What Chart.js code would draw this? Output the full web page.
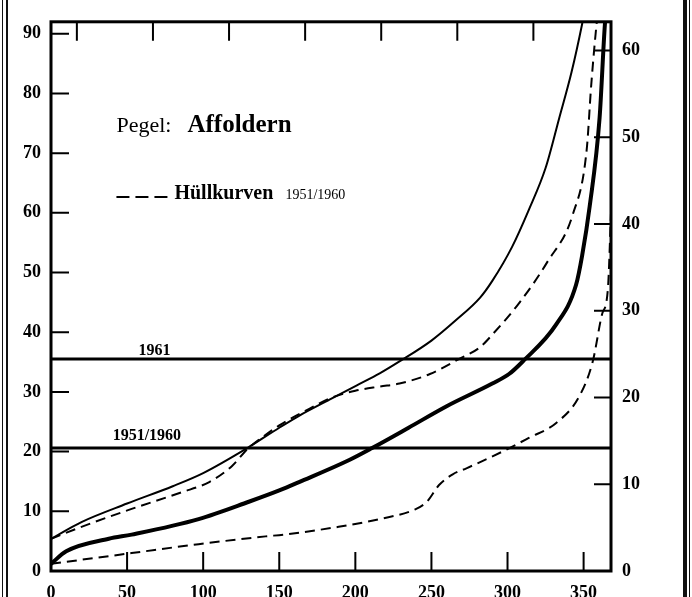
<!DOCTYPE html>
<html>
<head>
<meta charset="utf-8">
<script src="https://cdn.jsdelivr.net/npm/chart.js@4/dist/chart.umd.min.js"></script>
<style>
  html, body { margin: 0; padding: 0; background: #fff; }
  #wrap { position: relative; width: 692px; height: 597px; }
  .edge { position: absolute; top: 0; height: 597px; background: #111; }
</style>
</head>
<body>
<div id="wrap">
  <canvas id="myChart"></canvas>
  <div class="edge" style="left:2px;width:1px"></div>
  <div class="edge" style="left:6px;width:2px"></div>
  <div class="edge" style="left:683px;width:4px"></div>
  <div class="edge" style="left:689px;width:1px"></div>
</div>
<script>
// axis ranges
const dayMax = 368;
const leftMax = 92;
const rightMax = 63.3;
const topTickDays = [17, 67, 117, 167, 217, 267, 317];

// horizontal levels
const levelLabels = ['1961', '1951/1960'];
const levelValues = [35.5, 20.6];
const levelDays = [0, dayMax];

// thin solid curve (1961)
const curve1961Days = [0, 20, 50, 80, 100, 129, 150, 163, 183, 201, 216, 229, 250, 266, 282, 290, 303, 314, 325, 334, 342, 349, 353];
const curve1961Values = [5.4, 8.2, 11.3, 14.2, 16.4, 20.6, 24.0, 26.0, 28.7, 31.1, 33.1, 35.1, 38.6, 42.0, 45.8, 48.6, 54.3, 60.5, 67.5, 75.9, 83.5, 91.6, 97];

// thick solid curve (1951/1960)
const meanDays = [0, 10, 38, 53, 97, 130, 150, 163, 196, 211, 235, 260, 290, 301, 310, 332, 345, 349, 354, 360.5, 364, 366];
const meanValues = [1.2, 3.3, 5.4, 6.1, 8.7, 11.6, 13.5, 14.9, 18.6, 20.6, 24.0, 27.6, 31.4, 33.0, 35.1, 41.3, 47.9, 52.8, 61.1, 75.9, 91.6, 97];

// Hüllkurven 1951/1960 (dashed)
const hullUpperDays = [0, 20, 53, 86, 104, 119, 129, 140, 150, 170, 183, 200, 216, 229, 249, 268, 282, 290, 308, 326, 343, 352, 355, 358.5, 360];
const hullUpperValues = [5.4, 7.4, 10.4, 13.2, 14.9, 17.6, 20.4, 22.6, 24.4, 27.2, 28.9, 30.2, 30.9, 31.4, 33.0, 35.5, 37.5, 39.6, 45.0, 51.7, 59.8, 70.5, 81.4, 91.6, 95];
const hullLowerDays = [0, 53, 97, 141, 153, 189, 216, 240, 247, 255, 264, 273, 299, 314, 332, 347, 356, 362, 366, 368];
const hullLowerValues = [1.2, 3.0, 4.5, 5.8, 6.1, 7.4, 8.7, 10.4, 11.6, 14.4, 16.2, 17.2, 20.3, 22.3, 24.8, 29.2, 35.1, 42.9, 47.4, 60];

const toPoints = (days, values) => days.map((d, i) => ({ x: d, y: values[i] }));

const curve = (days, values, width, dash) => ({
  data: toPoints(days, values),
  borderColor: '#000',
  borderWidth: width,
  borderDash: dash || [],
  pointRadius: 0,
  cubicInterpolationMode: 'monotone',
  fill: false,
});

const datasets = [];
levelValues.forEach((v) => {
  datasets.push({ data: levelDays.map((d) => ({ x: d, y: v })), borderColor: '#000', borderWidth: 3, pointRadius: 0 });
});
datasets.push(curve(curve1961Days, curve1961Values, 2));
datasets.push(curve(hullUpperDays, hullUpperValues, 2, [10, 6]));
datasets.push(curve(meanDays, meanValues, 4));
datasets.push(curve(hullLowerDays, hullLowerValues, 2, [10, 6]));

// ticks pointing inward, frame, and text labels
const frameAndText = {
  id: 'frameAndText',
  afterDatasetsDraw(chart) {
    const { ctx, chartArea: a, scales } = chart;
    const { x, y, y2 } = scales;
    ctx.save();
    ctx.strokeStyle = '#000';
    ctx.lineWidth = 2;
    ctx.beginPath();
    y.ticks.forEach((t) => {
      if (t.value === 0) return;
      const py = y.getPixelForValue(t.value);
      ctx.moveTo(a.left, py); ctx.lineTo(a.left + 18, py);
    });
    y2.ticks.forEach((t) => {
      if (t.value === 0) return;
      const py = y2.getPixelForValue(t.value);
      ctx.moveTo(a.right, py); ctx.lineTo(a.right - 17, py);
    });
    x.ticks.forEach((t) => {
      if (t.value === 0) return;
      const px = x.getPixelForValue(t.value);
      ctx.moveTo(px, a.bottom); ctx.lineTo(px, a.bottom - 19);
    });
    topTickDays.forEach((d) => {
      const px = x.getPixelForValue(d);
      ctx.moveTo(px, a.top); ctx.lineTo(px, a.top + 19);
    });
    ctx.stroke();
    ctx.lineWidth = 3;
    ctx.strokeRect(a.left, a.top, a.right - a.left, a.bottom - a.top);

    // level labels
    ctx.fillStyle = '#000';
    ctx.textAlign = 'center';
    ctx.textBaseline = 'alphabetic';
    ctx.font = 'bold 16px "Liberation Serif"';
    ctx.fillText(levelLabels[0], x.getPixelForValue(68), y.getPixelForValue(levelValues[0]) - 4);
    ctx.fillText(levelLabels[1], x.getPixelForValue(63), y.getPixelForValue(levelValues[1]) - 8);

    // title
    ctx.textAlign = 'left';
    const tx = x.getPixelForValue(43);
    const ty = y.getPixelForValue(73.6);
    ctx.font = '22px "Liberation Serif"';
    ctx.fillText('Pegel:', tx, ty);
    ctx.font = 'bold 25px "Liberation Serif"';
    ctx.fillText('Affoldern', tx + 71, ty);

    // legend
    const ly = y.getPixelForValue(62.3);
    ctx.lineWidth = 2;
    ctx.setLineDash([13, 6]);
    ctx.beginPath();
    ctx.moveTo(tx, ly - 2); ctx.lineTo(tx + 51, ly - 2);
    ctx.stroke();
    ctx.setLineDash([]);
    ctx.font = 'bold 20px "Liberation Serif"';
    ctx.fillText('Hüllkurven', tx + 58, ly);
    ctx.font = '14px "Liberation Serif"';
    ctx.fillText('1951/1960', tx + 169, ly);
    ctx.restore();
  },
};

Chart.defaults.font.family = '"Liberation Serif", serif';
Chart.defaults.color = '#000';

const ctx = document.getElementById('myChart').getContext('2d');
const myChart = new Chart(ctx, {
  type: 'line',
  data: { datasets },
  options: {
    responsive: true,
    maintainAspectRatio: false,
    animation: false,
    layout: { padding: { top: 14 } },
    plugins: { legend: { display: false }, tooltip: { enabled: false } },
    scales: {
      x: {
        type: 'linear',
        min: 0,
        max: dayMax,
        grid: { display: false, drawTicks: false },
        border: { display: false },
        ticks: { stepSize: 50, includeBounds: false, padding: 12, font: { size: 18, weight: 'bold' } },
        afterFit: (s) => { s.height = 26; },
      },
      y: {
        min: 0,
        max: leftMax,
        grid: { display: false, drawTicks: false },
        border: { display: false },
        ticks: { stepSize: 10, includeBounds: false, padding: 10, font: { size: 18, weight: 'bold' } },
        afterFit: (s) => { s.width = 51; },
      },
      y2: {
        position: 'right',
        min: 0,
        max: rightMax,
        grid: { display: false, drawTicks: false },
        border: { display: false },
        ticks: { stepSize: 10, includeBounds: false, padding: 11, font: { size: 18, weight: 'bold' } },
        afterFit: (s) => { s.width = 81; },
      },
    },
  },
  plugins: [frameAndText],
});
</script>
</body>
</html>
